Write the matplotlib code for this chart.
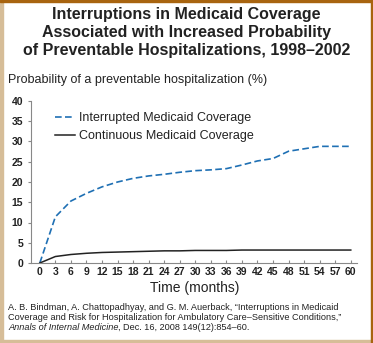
import matplotlib
matplotlib.use("Agg")
import matplotlib.pyplot as plt
from matplotlib.patches import Rectangle

# data
months = [0, 3, 6, 9, 12, 15, 18, 21, 24, 27, 30, 33, 36, 39, 42, 45, 48, 51, 54, 57, 60]
interrupted = [0, 11.4, 15.3, 17.2, 18.8, 20.0, 20.9, 21.5, 21.9, 22.4, 22.8, 23.0, 23.3,
               24.2, 25.2, 25.8, 27.6, 28.2, 28.8, 28.8, 28.8]
continuous = [0, 1.6, 2.1, 2.4, 2.6, 2.7, 2.8, 2.9, 3.0, 3.0, 3.1, 3.1, 3.1,
              3.2, 3.2, 3.2, 3.2, 3.2, 3.2, 3.2, 3.2]
yticks = [0, 5, 10, 15, 20, 25, 30, 35, 40]

plt.rcParams['font.family'] = ['Liberation Sans', 'DejaVu Sans']

fig = plt.figure(figsize=(3.73, 3.43), dpi=100)
ax = fig.add_axes([31 / 373, 80 / 343, 326 / 373, 162 / 343])

ax.plot(months, interrupted, color='#1f70b4', lw=1.2, dashes=(4, 2),
        label='Interrupted Medicaid Coverage')
ax.plot(months, continuous, color='#222222', lw=1.1,
        label='Continuous Medicaid Coverage')

ax.set_xlim(-1.7, 61.2)
ax.set_ylim(0, 40)
ax.set_xticks(months)
ax.set_yticks(yticks)
ax.tick_params(axis='both', labelsize=7.5, colors='#888888', labelcolor='#222222', length=2)
ax.tick_params(axis='x', direction='in', pad=3)
for lab in ax.get_xticklabels() + ax.get_yticklabels():
    lab.set_fontweight('bold')

for s in ['top', 'right']:
    ax.spines[s].set_visible(False)
for s in ['left', 'bottom']:
    ax.spines[s].set_color('#888888')
    ax.spines[s].set_linewidth(0.8)

ax.legend(loc='upper left', bbox_to_anchor=(24 / 326, 0.93), frameon=False,
          borderpad=0, borderaxespad=0,
          fontsize=9, handlelength=1.6, handletextpad=0.3, labelspacing=0.45,
          labelcolor='#222222')

fig.text(195 / 373, 1 - 288 / 343, 'Time (months)', ha='center', va='center',
         fontsize=10, color='#222222')

fig.text(0.5, 1 - 15 / 343, 'Interruptions in Medicaid Coverage',
         ha='center', va='center', fontsize=11.5, fontweight='bold', color='#222222')
fig.text(0.5, 1 - 33 / 343, 'Associated with Increased Probability',
         ha='center', va='center', fontsize=11.5, fontweight='bold', color='#222222')
fig.text(0.5, 1 - 51 / 343, 'of Preventable Hospitalizations, 1998\u20132002',
         ha='center', va='center', fontsize=11.5, fontweight='bold', color='#222222')
fig.text(8 / 373, 1 - 80 / 343, 'Probability of a preventable hospitalization (%)',
         ha='left', va='center', fontsize=9, color='#222222')

cite_y = 1 - 308 / 343
fig.text(8 / 373, cite_y,
         'A. B. Bindman, A. Chattopadhyay, and G. M. Auerback, \u201cInterruptions in Medicaid',
         fontsize=6.6, va='center', color='#222222')
fig.text(8 / 373, cite_y - 10 / 343,
         'Coverage and Risk for Hospitalization for Ambulatory Care\u2013Sensitive Conditions,\u201d',
         fontsize=6.6, va='center', color='#222222')
t = fig.text(8 / 373, cite_y - 19.5 / 343, 'Annals of Internal Medicine',
             fontsize=6.6, va='center', style='italic', color='#222222')
fig.canvas.draw()
bb = t.get_window_extent().transformed(fig.transFigure.inverted())
fig.text(bb.x1, cite_y - 19.5 / 343, ', Dec. 16, 2008 149(12):854\u201360.',
         fontsize=6.6, va='center', color='#222222')

# frame around the figure
fig.patches.append(Rectangle((0, 0), 3 / 373, 1, transform=fig.transFigure,
                             color='#d6bd98', zorder=5))
fig.patches.append(Rectangle((0, 0), 1, 3 / 343, transform=fig.transFigure,
                             color='#d6bd98', zorder=5))
fig.patches.append(Rectangle((0, 1 - 1.5 / 343), 1, 1.5 / 343, transform=fig.transFigure,
                             color='#a8640f', zorder=5))
fig.patches.append(Rectangle((1 - 2.5 / 373, 0), 2.5 / 373, 1, transform=fig.transFigure,
                             color='#a8640f', zorder=5))

fig.savefig('out.png', dpi=100)
